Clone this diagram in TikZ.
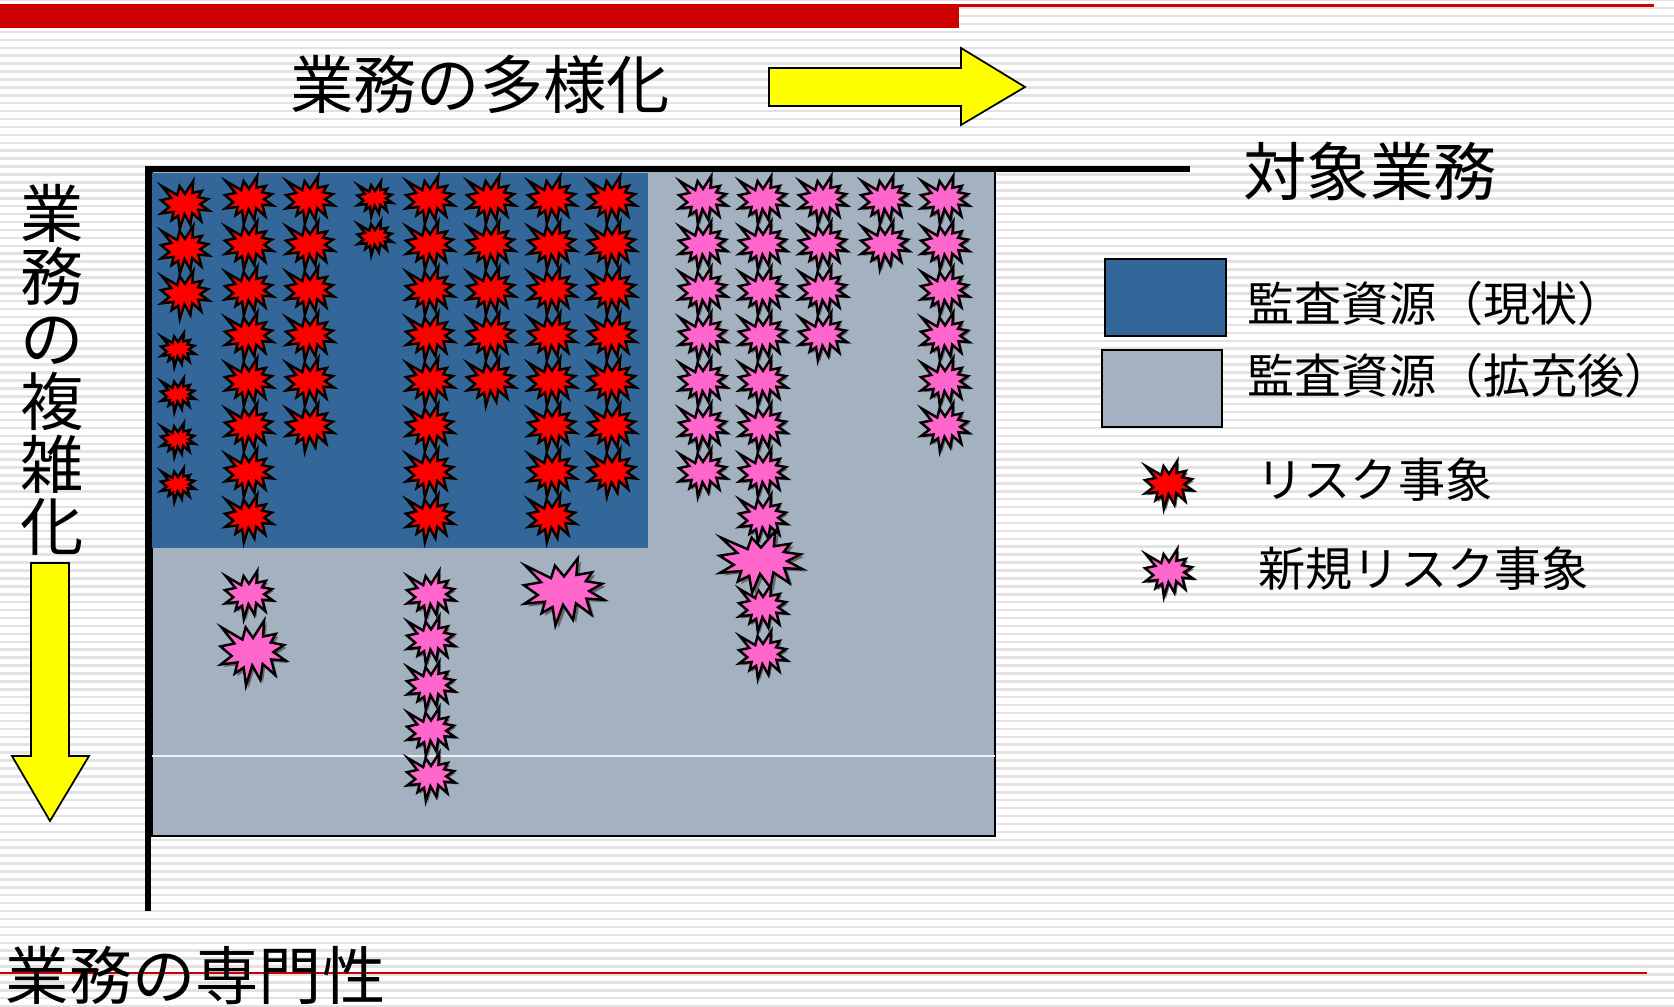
\documentclass[tikz,border=0pt]{standalone}
\usepackage{fontspec}
\newfontfamily\jpfont{Noto Sans CJK JP}
\usetikzlibrary{calc}
\definecolor{BarClr}{rgb}{0.8,0,0}
\definecolor{StripeClr}{rgb}{0.885,0.885,0.885}
\definecolor{NowClr}{rgb}{0.2,0.4,0.6}
\definecolor{AfterClr}{rgb}{0.64,0.694,0.753}
\definecolor{RiskClr}{rgb}{1,0,0}
\definecolor{NewRiskClr}{rgb}{1,0.4,0.8}
\definecolor{ArrowClr}{rgb}{1,1,0}

\tikzset{
  burst outline/.style={insert path={(0,-23.2) -- (17.2,-50) -- (15.5,-25.4) -- (35.1,-29.4) -- (27.3,-16.1) -- (47.7,-12.3) -- (31.5,-1.5) -- (50,11.5) -- (28,9.9) -- (34,33.8) -- (14.9,16.9) -- (11.3,41.4) -- (-1.2,19.1) -- (-10.7,50) -- (-14.3,22.4) -- (-28,31.6) -- (-23.8,14.5) -- (-49.4,17.5) -- (-32.8,4.5) -- (-50,-10.1) -- (-28.6,-14.7) -- (-48.3,-39.4) -- (-16.2,-20.7) -- (-11.3,-39.4) -- cycle}},
  burst/.pic={
    \fill[black!60,shift={(4,4)},burst outline];
    \draw[pic actions,line width=.7pt,burst outline];
  },
  risk/.style={fill=RiskClr},
  newrisk/.style={fill=NewRiskClr},
  bigtext/.style={font=\jpfont\fontsize{18}{17.8}\selectfont,inner sep=0pt},
  legtext/.style={font=\jpfont\fontsize{13.4}{13.4}\selectfont,inner sep=0pt,anchor=west},
  axis/.style={line width=1.7pt},
  bigarrow/.style={fill=ArrowClr,draw=black,line width=.5pt},
}

\begin{document}
\begin{tikzpicture}[x=0.01cm,y=-0.01cm]
\useasboundingbox (0,0) rectangle (1674,1006);
\fill[white] (0,0) rectangle (1674,1006);
\foreach \k in {0,...,127}
  \fill[StripeClr] (0,{7.92*\k-1}) rectangle (1674,{7.92*\k+1.5});

% title bars
\fill[BarClr] (0,4) rectangle (1654,6.7);
\fill[BarClr] (0,6.7) rectangle (959,28);
\draw[BarClr,line width=.45pt] (0,973) -- (1647,973);

% audit resources
\draw[fill=AfterClr,line width=.6pt] (152,171) rectangle (995,836);
\fill[NowClr] (152,173) rectangle (648,548);
\draw[white!80!AfterClr,line width=.4pt] (152,756) -- (995,756);
\draw[axis] (1190,169) -- (148,169) -- (148,911);

% risks (current)
\foreach \y in {205,250,295}
  \pic[risk,scale=.48] at (185,\y) {burst};
\foreach \y in {350,395,440,485}
  \pic[risk,scale=.34] at (178,\y) {burst};
\foreach \y in {199,238}
  \pic[risk,scale=.35] at (375,\y) {burst};
\foreach \x/\n in {249/8,310/6,430/8,491/5,552/8,612/7}
  \foreach \k in {1,...,\n}
    \pic[risk,scale=.48] at (\x,{200+45.5*(\k-1)}) {burst};

% new risks
\foreach \x/\n in {703/7,763/8,823/4,885/2,945/6}
  \foreach \k in {1,...,\n}
    \pic[newrisk,scale=.48] at (\x,{200+45.5*(\k-1)}) {burst};
\foreach \y in {608,655}
  \pic[newrisk,scale=.48] at (763,\y) {burst};
\pic[newrisk,xscale=.83,yscale=.62] at (761,562) {burst};
\foreach \k in {0,...,4}
  \pic[newrisk,scale=.48] at (431,{595+45.5*\k}) {burst};
\pic[newrisk,scale=.48] at (249,595) {burst};
\pic[newrisk,scale=.65] at (253,653) {burst};
\pic[newrisk,xscale=.8,yscale=.67] at (564,592) {burst};

% direction arrows
\draw[bigarrow] (769,68) -- (961,68) -- (961,48) -- (1025,87) -- (961,125) -- (961,106) -- (769,106) -- cycle;
\draw[bigarrow] (31,563) -- (69,563) -- (69,756) -- (89,756) -- (50,821) -- (12,756) -- (31,756) -- cycle;

\node[bigtext] (variety) at (480,84) {業務の多様化};
\node[bigtext] (target) at (1370,171) {対象業務};
\node[bigtext,align=center] (complexity) at (52,370) {業\\務\\の\\複\\雑\\化};
\node[bigtext,anchor=west] (expertise) at (5,975) {業務の専門性};

% legend
\draw[fill=NowClr,line width=.8pt] (1105,259) rectangle (1226,336);
\draw[fill=AfterClr,line width=.8pt] (1102,350) rectangle (1222,427);
\pic[risk,scale=.48] at (1169,485) {burst};
\pic[newrisk,scale=.48] at (1169,573) {burst};
\node[legtext] (nowlab) at (1247,304) {監査資源（現状）};
\node[legtext] (afterlab) at (1247,376) {監査資源（拡充後）};
\node[legtext] (risklab) at (1256,480) {リスク事象};
\node[legtext] (newrisklab) at (1258,569) {新規リスク事象};
\end{tikzpicture}
\end{document}
